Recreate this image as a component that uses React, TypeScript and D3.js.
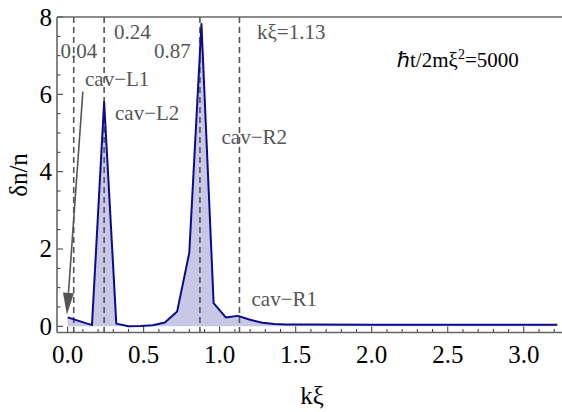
import React from 'react';
import { scaleLinear, area, line } from 'd3';

// k-xi grid and density contrast
const kValues = [0, 0.16, 0.24, 0.32, 0.4, 0.48, 0.56, 0.64, 0.72, 0.8, 0.88, 0.96, 1.04, 1.12, 1.2, 1.28, 1.36, 1.44, 1.6, 2.0, 2.5, 3.0, 3.22];
const dnValues = [0.23, 0.03, 5.8, 0.07, 0.0, 0.01, 0.03, 0.1, 0.38, 1.9, 7.82, 0.6, 0.23, 0.27, 0.17, 0.09, 0.06, 0.05, 0.045, 0.04, 0.04, 0.04, 0.04];

const xTicks = [0, 0.5, 1.0, 1.5, 2.0, 2.5, 3.0];
const xMinorTicks = [0.1, 0.2, 0.3, 0.4, 0.6, 0.7, 0.8, 0.9, 1.1, 1.2, 1.3, 1.4, 1.6, 1.7, 1.8, 1.9, 2.1, 2.2, 2.3, 2.4, 2.6, 2.7, 2.8, 2.9, 3.1, 3.2];
const yTicks = [0, 2, 4, 6, 8];
const yMinorTicks = [0.5, 1, 1.5, 2.5, 3, 3.5, 4.5, 5, 5.5, 6.5, 7, 7.5];

// dashed markers and their labels
const markerK = [0.04, 0.24, 0.87, 1.13];
const markerLabels = ['0.04', '0.24', '0.87', 'kξ=1.13'];
const markerLabelPos = [[60.5, 58], [114, 39], [154, 58], [257, 39]];

const cavLabels = ['cav−L1', 'cav−L2', 'cav−R2', 'cav−R1'];
const cavLabelPos = [[85, 86], [115, 120], [221.5, 143.5], [251.5, 305.5]];

const W = 562;
const H = 412;
const left = 57;
const right = 558;
const top = 17;
const bottom = 332.5;
const serif = { fontFamily: "'Liberation Serif'" };

const x = scaleLinear().domain([-0.07, 3.225]).range([left, right]);
const y = scaleLinear().domain([-0.16, 8]).range([bottom, top]);

function Arrow() {
  const ax0 = x(0.1);
  const ay0 = y(6.07);
  const ax1 = x(-0.005);
  const ay1 = y(0.3);
  const ang = Math.atan2(ay1 - ay0, ax1 - ax0);
  const hl = 22;
  const hw = 5.5;
  const bx = ax1 - hl * Math.cos(ang);
  const by = ay1 - hl * Math.sin(ang);
  const s = Math.sin(ang);
  const c = Math.cos(ang);
  return (
    <g>
      <line x1={ax0} y1={ay0} x2={bx} y2={by} stroke="#555" strokeWidth={1.6} />
      <path fill="#555" d={`M${ax1},${ay1}L${bx + hw * s},${by - hw * c}L${bx - hw * s},${by + hw * c}Z`} />
    </g>
  );
}

export default function App() {
  const pts = kValues.map((k, i) => [k, dnValues[i]] as [number, number]);
  const areaPath = area<[number, number]>().x((d) => x(d[0])).y0(y(0)).y1((d) => y(d[1]))(pts) || '';
  const linePath = line<[number, number]>().x((d) => x(d[0])).y((d) => y(d[1]))(pts) || '';

  return (
    <svg width={W} height={H} style={{ position: 'absolute', left: 0, top: 0, background: '#fff' }}>
      <path d={areaPath} fill="#c8c8e6" />
      {markerK.map((k) => (
        <line key={k} x1={x(k)} x2={x(k)} y1={top} y2={bottom} stroke="#555" strokeWidth={1.6} strokeDasharray="6,4" />
      ))}
      <path d={linePath} fill="none" stroke="#0b0b8c" strokeWidth={2} strokeLinejoin="round" />

      {/* inward ticks */}
      <g stroke="#333" strokeWidth={1}>
        {xMinorTicks.map((t) => (
          <line key={'xm' + t} x1={x(t)} x2={x(t)} y1={bottom} y2={bottom - 3.5} />
        ))}
        {xTicks.map((t) => (
          <line key={'x' + t} x1={x(t)} x2={x(t)} y1={bottom} y2={bottom - 6} />
        ))}
        {yMinorTicks.map((t) => (
          <line key={'ym' + t} x1={left} x2={left + 3.5} y1={y(t)} y2={y(t)} />
        ))}
        {yTicks.map((t) => (
          <line key={'y' + t} x1={left} x2={left + 6} y1={y(t)} y2={y(t)} />
        ))}
      </g>
      {xTicks.map((t) => (
        <text key={'xl' + t} x={x(t)} y={363} textAnchor="middle" fontSize={25} fontFamily="Liberation Serif" style={serif}>
          {t.toFixed(1)}
        </text>
      ))}
      {yTicks.map((t) => (
        <text key={'yl' + t} x={left - 5} y={y(t)} dy="0.34em" textAnchor="end" fontSize={25} fontFamily="Liberation Serif" style={serif}>
          {t}
        </text>
      ))}

      {/* frame: left, bottom, top */}
      <g stroke="#666" strokeWidth={1.6}>
        <line x1={left} x2={W} y1={bottom} y2={bottom} />
        <line x1={left} x2={W} y1={top} y2={top} />
        <line x1={left} x2={left} y1={top} y2={bottom} />
      </g>

      {markerLabels.map((t, i) => (
        <text key={t} x={markerLabelPos[i][0]} y={markerLabelPos[i][1]} fontSize={21} fill="#555" fontFamily="Liberation Serif" style={serif}>
          {t}
        </text>
      ))}
      {cavLabels.map((t, i) => (
        <text key={t} x={cavLabelPos[i][0]} y={cavLabelPos[i][1]} fontSize={21} fill="#555" fontFamily="Liberation Serif" style={serif}>
          {t}
        </text>
      ))}

      <text x={397} y={67} fontSize={21} fill="#000" fontFamily="Liberation Serif" style={serif}>
        <tspan>ℏt/2mξ</tspan>
        <tspan fontSize={14} dy={-8}>
          2
        </tspan>
        <tspan dy={8}>=5000</tspan>
      </text>

      <Arrow />

      <text x={312} y={404} textAnchor="middle" fontSize={25} fontFamily="Liberation Serif" style={serif}>
        kξ
      </text>
      <text transform="translate(27,175) rotate(-90)" textAnchor="middle" fontSize={25} fontFamily="Liberation Serif" style={serif}>
        δn/n
      </text>
    </svg>
  );
}
